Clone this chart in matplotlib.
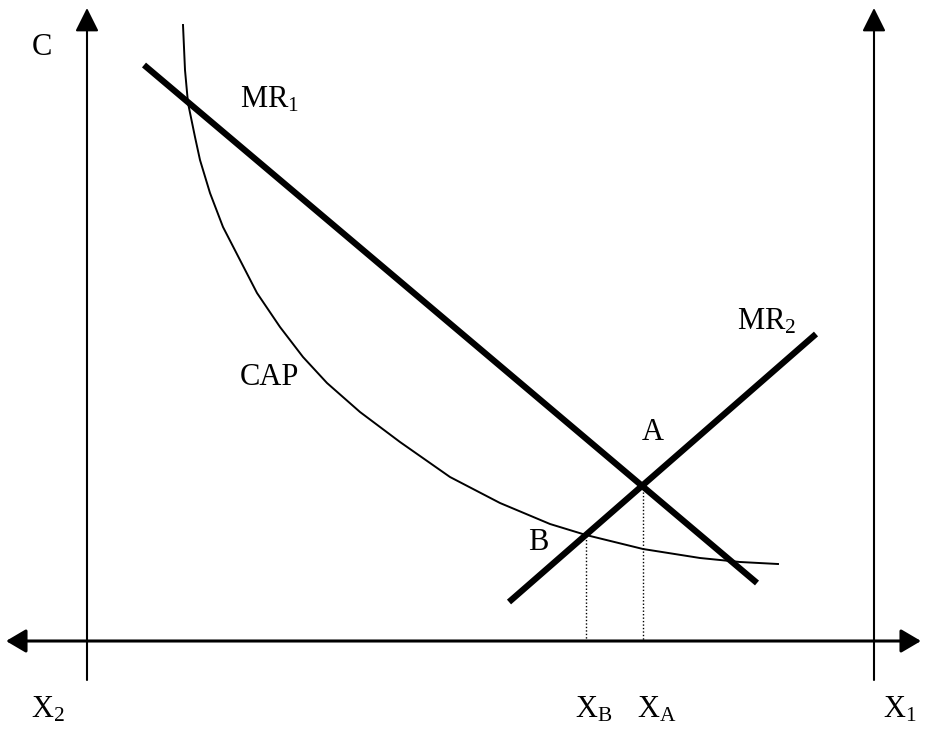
import matplotlib
matplotlib.use("Agg")
import matplotlib.pyplot as plt

plt.rcParams['font.family'] = ['Liberation Serif', 'DejaVu Serif']
plt.rcParams['mathtext.fontset'] = 'custom'
plt.rcParams['mathtext.rm'] = 'Liberation Serif'
plt.rcParams['mathtext.it'] = 'Liberation Serif:italic'

# coordinates (pixels, y grows downwards)
left_axis_x = 87
right_axis_x = 874
vaxis_top = 8
vaxis_bottom = 680
haxis_y = 641
haxis_left = 6
haxis_right = 921

mr1_x = [144, 757]
mr1_y = [65, 583]
mr2_x = [509, 816]
mr2_y = [602, 334]

cap_x = [183, 185, 188, 195, 200, 210, 223, 240, 257, 280, 303, 327, 360,
         400, 450, 500, 550, 586, 643, 700, 740, 778]
cap_y = [25, 70, 103, 137, 160, 193, 227, 260, 293, 327, 357, 383, 412,
         442, 477, 503, 524, 535, 549, 558, 562, 564]

point_a = (643, 485)
point_b = (586, 536)

labels = ['C', r'$\mathrm{MR}_1$', r'$\mathrm{MR}_2$', 'CAP', 'A', 'B',
          r'$\mathrm{X}_2$', r'$\mathrm{X}_\mathrm{B}$', r'$\mathrm{X}_\mathrm{A}$',
          r'$\mathrm{X}_1$']
label_x = [32, 240, 737, 240, 642, 528, 31, 575, 637, 883]
label_y = [55, 108, 329, 385, 440, 550, 717, 717, 717, 717]

fig = plt.figure(figsize=(9.25, 7.31), dpi=100)
ax = fig.add_axes([0, 0, 1, 1])
ax.set_xlim(0, 925)
ax.set_ylim(731, 0)
ax.axis('off')

head = dict(mutation_scale=14.4, shrinkA=0, shrinkB=0, color='black')

# vertical axes
for x in (left_axis_x, right_axis_x):
    ax.annotate('', xy=(x, vaxis_top), xytext=(x, vaxis_bottom),
                arrowprops=dict(arrowstyle='-|>,head_length=1.0,head_width=0.5',
                                lw=1.5, **head))

# horizontal axis, arrows both ends
ax.annotate('', xy=(haxis_right, haxis_y), xytext=(haxis_left, haxis_y),
            arrowprops=dict(arrowstyle='<|-|>,head_length=0.85,head_width=0.5',
                            lw=2.2, **head))

# MR lines
ax.plot(mr1_x, mr1_y, color='black', lw=4.5, solid_capstyle='butt')
ax.plot(mr2_x, mr2_y, color='black', lw=4.5, solid_capstyle='butt')

# CAP curve
ax.plot(cap_x, cap_y, color='black', lw=1.4, solid_joinstyle='round')

# dotted drop lines
for px, py in (point_a, point_b):
    ax.plot([px, px], [py, haxis_y], color='black', lw=1.0, ls=(0, (1, 1.5)))

for txt, x, y in zip(labels, label_x, label_y):
    ax.text(x, y, txt, fontsize=22, ha='left', va='baseline', color='black')

fig.savefig('out.png', dpi=100)
